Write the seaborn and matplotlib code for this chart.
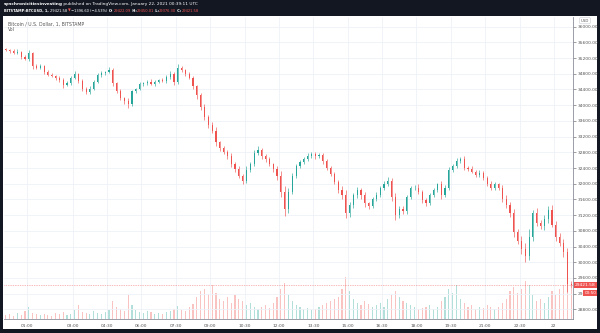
import numpy as np
import pandas as pd
import matplotlib
matplotlib.use("Agg")
import matplotlib.pyplot as plt
import matplotlib.transforms as mtransforms
from matplotlib.patches import Rectangle
import seaborn as sns

# ---------------- data (10-minute aggregation) -------------
first_open = 35420
close = [35400, 35380, 35340, 35360, 35240, 35180, 35320, 34990, 34960, 35000,
         34850, 34780, 34750, 34700, 34640, 34520, 34560, 34700, 34800, 34620,
         34420, 34330, 34420, 34600, 34780, 34820, 34840, 34900, 34560, 34350,
         34180, 34100, 34020, 34350, 34420, 34530, 34560, 34600, 34550, 34600,
         34640, 34620, 34720, 34800, 34580, 34950, 34900, 34800, 34700, 34480,
         34250, 33950, 33700, 33500, 33350, 33050, 32900, 32800, 32700, 32500,
         32380, 32200, 32080, 32350, 32500, 32780, 32860, 32700, 32620, 32500,
         32380, 32200, 31800, 31350, 31800, 32200, 32450, 32550, 32620, 32700,
         32760, 32700, 32720, 32580, 32400, 32250, 32050, 31850, 31700, 31250,
         31450, 31700, 31850, 31700, 31500, 31420, 31600, 31720, 31900, 32000,
         32080, 31650, 31200, 31350, 31300, 31650, 31880, 31900, 31800, 31580,
         31500, 31700, 31850, 31980, 31700, 31900, 32340, 32450, 32580, 32640,
         32400, 32380, 32300, 32230, 32280, 32150, 32000, 31900, 31980, 31900,
         31620, 31450, 31250, 30760, 30550, 30330, 30150, 30650, 31250, 31000,
         30920, 31100, 31320, 30950, 30650, 30500, 30250, 29450, 29421.58]
wick_up = [40, 30, 50, 60, 30, 40, 90, 40, 50, 60,
           30, 40, 50, 30, 40, 60, 50, 40, 70, 30,
           40, 50, 60, 30, 50, 40, 40, 70, 40, 30,
           50, 40, 80, 40, 30, 50, 40, 30, 60, 40,
           30, 50, 40, 80, 40, 90, 40, 30, 50, 40,
           40, 60, 80, 50, 60, 90, 40, 60, 50, 70,
           50, 80, 40, 90, 60, 70, 100, 40, 50, 60,
           40, 80, 120, 150, 90, 60, 40, 60, 50, 80,
           60, 40, 70, 50, 40, 60, 50, 40, 80, 140,
           90, 60, 70, 50, 80, 40, 60, 70, 50, 60,
           80, 60, 120, 90, 70, 60, 50, 60, 80, 50,
           60, 70, 50, 40, 90, 60, 80, 60, 70, 50,
           60, 50, 70, 40, 60, 50, 40, 60, 70, 40,
           60, 80, 90, 100, 80, 120, 150, 200, 90, 120,
           80, 90, 120, 150, 100, 90, 80, 120, 60]
wick_dn = [30, 50, 40, 30, 60, 40, 50, 60, 40, 30,
           50, 40, 30, 60, 40, 70, 40, 50, 30, 60,
           60, 50, 40, 40, 30, 50, 40, 30, 70, 50,
           40, 60, 90, 50, 40, 30, 50, 40, 30, 50,
           40, 30, 50, 60, 70, 40, 50, 60, 40, 70,
           80, 60, 70, 90, 60, 80, 70, 50, 60, 80,
           70, 60, 90, 50, 40, 60, 50, 70, 60, 50,
           80, 100, 150, 180, 90, 70, 60, 50, 40, 50,
           40, 60, 50, 70, 60, 50, 70, 80, 90, 120,
           100, 70, 60, 80, 90, 60, 50, 40, 60, 50,
           60, 90, 130, 80, 60, 70, 50, 40, 60, 80,
           60, 50, 40, 60, 80, 50, 60, 40, 50, 60,
           50, 60, 40, 70, 50, 60, 70, 50, 60, 70,
           80, 70, 100, 120, 90, 110, 140, 90, 100, 70,
           80, 100, 90, 60, 110, 90, 120, 200, 60]
volume = [4, 5, 3, 6, 4, 8, 12, 6, 5, 4,
          5, 4, 3, 6, 5, 7, 4, 5, 9, 14,
          7, 6, 5, 8, 6, 5, 7, 9, 18, 12,
          10, 8, 24, 14, 9, 7, 6, 8, 7, 5,
          6, 5, 7, 8, 10, 13, 9, 8, 12, 15,
          22, 28, 30, 25, 34, 26, 20, 18, 22, 16,
          24, 20, 18, 14, 16, 12, 10, 12, 14, 11,
          16, 22, 30, 36, 24, 18, 14, 12, 10, 11,
          9, 10, 12, 14, 16, 18, 20, 22, 30, 42,
          28, 20, 16, 14, 18, 15, 12, 14, 16, 12,
          20, 24, 28, 22, 18, 16, 14, 12, 10, 11,
          12, 14, 10, 12, 18, 22, 30, 26, 34, 20,
          16, 12, 14, 10, 12, 11, 14, 12, 10, 12,
          16, 20, 28, 32, 26, 30, 38, 34, 24, 18,
          20, 16, 22, 28, 24, 30, 34, 46, 32]
tick_minutes = [60, 180, 270, 360, 450, 540, 630, 720, 810, 900, 990, 1080,
                1170, 1260, 1350, 1440]
tick_labels = ["01:00", "03:00", "04:30", "06:00", "07:30", "09:00", "10:30",
               "12:00", "13:30", "15:00", "16:30", "18:00", "19:30", "21:00",
               "22:30", "22"]
price_ticks = list(range(28800, 36001, 400))
last_price = 29421.58
countdown = "00:50"

UP = "#26a69a"
DN = "#ef5350"

n = len(close)
t = np.arange(n) * 10 + 5
opens = np.array([first_open] + close[:-1], dtype=float)
closes = np.array(close, dtype=float)
highs = np.maximum(opens, closes) + np.array(wick_up)
lows = np.minimum(opens, closes) - np.array(wick_dn)
direction = np.where(closes >= opens, "up", "down")

df = pd.DataFrame({"t": t, "volume": volume, "dir": direction})

# ---------------- figure ----------------
sns.set_theme(style="white")
plt.rcParams['font.family'] = ['DejaVu Sans']
fig = plt.figure(figsize=(6, 3.33), dpi=100)
fig.patch.set_facecolor('#131722')
fig.add_artist(Rectangle((3/600, 1-329/333), 594/600, (329-16)/333,
                         transform=fig.transFigure, facecolor='white',
                         edgecolor='none', zorder=-5))

rect = [4/600, 1-319/333, 569/600, 302/333]
ax_vol = fig.add_axes(rect)
ax = fig.add_axes(rect, sharex=ax_vol)
ax.patch.set_visible(False)
ax_vol.patch.set_facecolor('white')

# volume
sns.barplot(data=df, x="t", y="volume", hue="dir", palette={"up": UP, "down": DN},
            native_scale=True, dodge=False, width=0.3, alpha=0.35, saturation=1,
            errorbar=None, legend=False, linewidth=0, ax=ax_vol)
ax_vol.set_ylim(0, 302)
ax_vol.set_xlabel("")
ax_vol.set_ylabel("")
ax_vol.set_yticks([])
ax_vol.tick_params(axis='x', which='both', bottom=False, labelbottom=False)
for s in ax_vol.spines.values():
    s.set_visible(False)

# grid
for p in price_ticks:
    ax.axhline(p, color='#eef1f6', lw=0.6, zorder=0)
for m in tick_minutes:
    ax.axvline(m, color='#eef1f6', lw=0.6, zorder=0)

# candles
cols = np.where(direction == "up", UP, DN)
ax.vlines(t, lows, highs, colors=cols, lw=0.45, zorder=3)
body_bottom = np.minimum(opens, closes)
body_h = np.maximum(np.abs(closes - opens), 8)
ax.bar(t, body_h, bottom=body_bottom, width=3.0, color=cols, linewidth=0, zorder=4)

# last price line
ax.axhline(last_price, color=DN, lw=0.5, ls=(0, (1, 1.5)), alpha=0.8, zorder=2)

ax.set_xlim(0, 1490)
ax.set_ylim(28553, 36247)
ax.set_xticks(tick_minutes)
ax.set_xticklabels(tick_labels)
ax.yaxis.tick_right()
ax.set_yticks(price_ticks)
ax.set_yticklabels([f"{p:.2f}" for p in price_ticks])
ax.tick_params(axis='x', labelsize=3.2, colors='#555555', length=0, pad=3.5)
ax.tick_params(axis='y', labelsize=3.2, colors='#555555', length=2, width=0.4,
               pad=1.2, right=True, left=False)
ax.set_xlabel("")
ax.set_ylabel("")
for side in ('top', 'left'):
    ax.spines[side].set_visible(False)
for side in ('right', 'bottom'):
    ax.spines[side].set_color('#8a8e99')
    ax.spines[side].set_linewidth(0.6)

# in-pane titles
ax.text(0.007, 0.978, "Bitcoin / U.S. Dollar, 1, BITSTAMP", transform=ax.transAxes,
        fontsize=3.3, color='#555555', va='center', ha='left')
ax.text(0.007, 0.958, "Vol", transform=ax.transAxes,
        fontsize=3.3, color='#555555', va='center', ha='left')

# right-axis labels
blend = mtransforms.blended_transform_factory(ax.transAxes, ax.transData)
ax.text(1.0035, last_price, f"{last_price:.2f}", transform=blend, fontsize=3.2,
        color='white', va='center', ha='left', clip_on=False, zorder=10,
        bbox=dict(boxstyle='square,pad=0.3', fc=DN, ec='none'))
ax.text(1.041, last_price - 215, countdown, transform=blend, fontsize=3.0,
        color='white', va='center', ha='right', clip_on=False, zorder=10,
        bbox=dict(boxstyle='square,pad=0.25', fc=DN, ec='none'))
ax.text(1.021, 0.988, "USD", transform=ax.transAxes, fontsize=2.8, color='#555555',
        va='center', ha='center', clip_on=False,
        bbox=dict(boxstyle='round,pad=0.3', fc='white', ec='#c8ccd4', lw=0.4))

# header
hx, hy1, hy2 = 3.5/600, 1-4.5/333, 1-11/333
t1 = fig.text(hx, hy1, "synchronicitiesinvesting", fontsize=3.1, color='white',
              fontweight='bold', va='center', ha='left')
ax.annotate(" published on TradingView.com, January 22, 2021 00:39:11 UTC",
            xy=(1, 0.5), xycoords=t1, va='center', ha='left',
            fontsize=3.1, color='white', annotation_clip=False)
pieces = [("BITSTAMP:BTCUSD, 1, ", 'white', 'bold'),
          ("29421.58 ", 'white', 'normal'),
          ("\u25bc", DN, 'normal'),
          (" \u22121396.60 (\u22124.53%) ", 'white', 'normal'),
          ("O:", 'white', 'bold'), ("29422.09", DN, 'normal'),
          (" H:", 'white', 'bold'), ("29450.01", DN, 'normal'),
          (" L:", 'white', 'bold'), ("29376.30", DN, 'normal'),
          (" C:", 'white', 'bold'), ("29421.58", DN, 'normal')]
prev = fig.text(hx, hy2, pieces[0][0], fontsize=2.65, color=pieces[0][1],
                fontweight=pieces[0][2], va='center', ha='left')
for txt, col, fw in pieces[1:]:
    prev = ax.annotate(txt, xy=(1, 0.5), xycoords=prev, va='center', ha='left',
                       fontsize=2.65, color=col, fontweight=fw, annotation_clip=False)

fig.savefig("out.png", dpi=100, facecolor=fig.get_facecolor())
